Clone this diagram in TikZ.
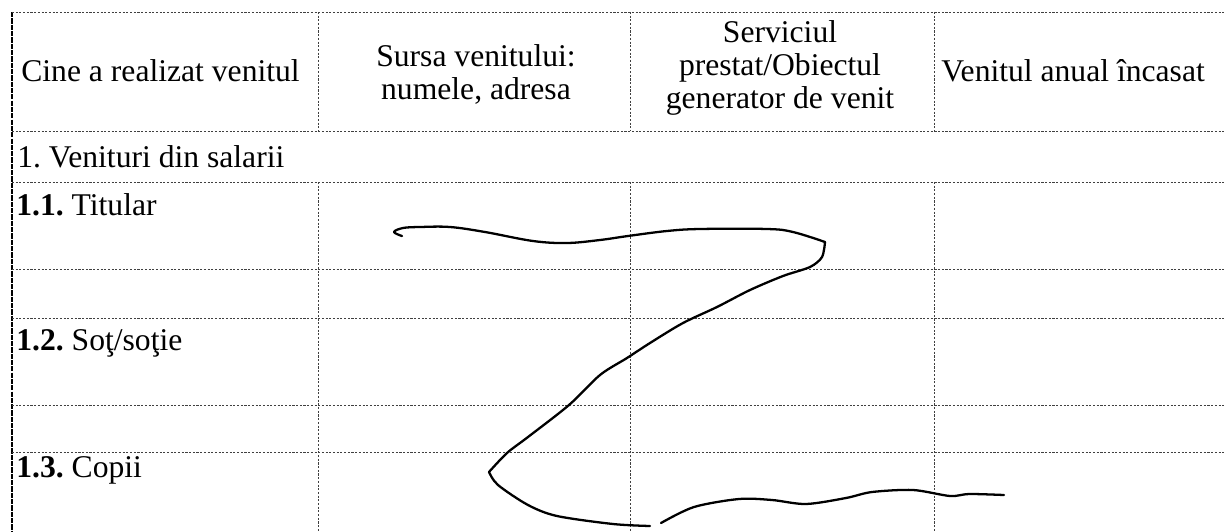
\documentclass[tikz,border=0pt]{standalone}
\usepackage{fontspec}
\setmainfont{Liberation Serif}
\frenchspacing

\begin{document}
\begin{tikzpicture}
        [
        x=0.02cm, y=-0.02cm,
        rule/.style={black!75, line width=0.5pt, dash pattern=on 1.2pt off 0.9pt},
        border/.style={black, line width=0.7pt, dash pattern=on 3pt off 0.6pt},
        cell/.style={font=\fontsize{18}{18.8}\selectfont, inner sep=0pt},
        head/.style={cell, align=center},
        pen/.style={black, line width=1.3pt, line cap=round, line join=round}
        ]
    \useasboundingbox (0,0) rectangle (1224,531);
    % table rules
    \draw[border] (12,12) -- (12,531);
    \draw[rule] (12,12) -- (1224,12);
    \draw[rule] (12,131) -- (1224,131);
    \draw[rule] (12,182) -- (1224,182);
    \draw[rule] (12,269) -- (1224,269);
    \draw[rule] (12,318) -- (1224,318);
    \draw[rule] (12,405) -- (1224,405);
    \draw[rule] (12,452) -- (1224,452);
    \draw[rule] (318,12) -- (318,131);
    \draw[rule] (630,12) -- (630,131);
    \draw[rule] (934,12) -- (934,131);
    \draw[rule] (318,182) -- (318,531);
    \draw[rule] (630,182) -- (630,531);
    \draw[rule] (934,182) -- (934,531);
    % header
    \node[cell, anchor=west] (who) at (21,71) {Cine a realizat venitul};
    \node[head] (source) at (476,74) {Sursa venitului:\\numele, adresa};
    \node[head] (object) at (780,68) {Serviciul\\prestat/Obiectul\\generator de venit};
    \node[cell, anchor=west] (income) at (941,71) {Venitul anual încasat};
    % rows
    \node[cell, anchor=base west] (salary) at (17,167) {1. Venituri din salarii};
    \node[cell, anchor=base west] (holder) at (16,215) {\textbf{1.1.} Titular};
    \node[cell, anchor=base west] (spouse) at (16,350) {\textbf{1.2.} Soţ/soţie};
    \node[cell, anchor=base west] (kids) at (16,477) {\textbf{1.3.} Copii};
    % crossing-out stroke
    \draw[pen] plot[smooth, tension=0.6] coordinates {(402,236) (394,232) (403,228) (420,227) (450,227) (485,232) (533,241) (567,243) (600,240) (628,236) (667,231) (700,229) (767,229) (793,232) (825,242)};
    \draw[pen] plot[smooth, tension=0.5] coordinates {(825,242) (822,257) (810,267) (783,276) (750,290) (717,307) (683,323) (650,343) (627,358) (600,375) (569,405) (528,437) (507,453) (489,472)};
    \draw[pen] plot[smooth, tension=0.5] coordinates {(489,472) (498,485) (528,505) (557,516) (613,524) (650,526)};
    \draw[pen] plot[smooth, tension=0.5] coordinates {(661,523) (694,507) (739,499) (772,500) (806,504) (846,498) (872,492) (913,490) (950,496) (969,494) (1004,495)};
\end{tikzpicture}
\end{document}
